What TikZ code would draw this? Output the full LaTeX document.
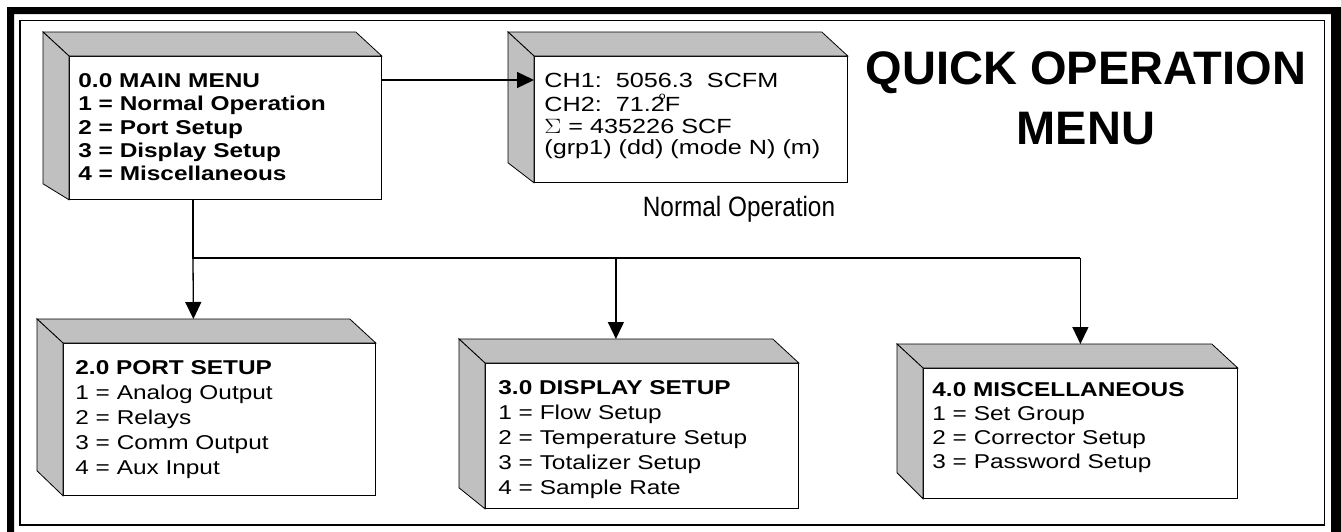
\documentclass[tikz,border=0pt]{standalone}
\usepackage{fontspec}
\setmainfont{Liberation Sans}
\usepackage{graphicx}
\usetikzlibrary{arrows.meta}
\definecolor{sidegray}{HTML}{C0C0C0}
\tikzset{
    menu face/.style n args={4}{
            draw, fill=white, line width=0.8pt, anchor=north west,
            inner ysep=0pt, inner xsep=#1,
            text height=#2, text depth=#3-#2, minimum width=#4
        },
    cube side/.style={draw, fill=sidegray, line width=0.8pt},
    link/.style={line width=1.3pt},
    link arrow/.style={link, -{Triangle[length=17pt,width=16pt]}},
}
% menu lines: width, line skip, lines
\newcommand\menulines[3]{\makebox[#1][l]{\fontsize{20}{#2}\selectfont\scalebox{1.22}[1]{\begin{tabular}[t]{@{}l@{}}#3\end{tabular}}}}
% grey top and left faces behind a front face
\newcommand\cubeback[2]{%
    \draw[cube side] (#1.north west) -- ++(-26,-24) -- ([shift={(-26,-24)}]#1.north east) -- (#1.north east) -- cycle;
    \draw[cube side] (#1.north west) -- ++(-26,-24) -- ([shift={(-26,-#2)}]#1.south west) -- (#1.south west) -- cycle;
    \coordinate (#1 top) at ([shift={(-26,-24)}]#1.north);
}

\begin{document}
\begin{tikzpicture}[x=1pt, y=-1pt]
        \useasboundingbox (0,0) rectangle (1341,531);
        %frame
        \fill[even odd rule] (7,7) rectangle (1350,545) (14,14) rectangle (1331,540);
        \draw[line width=1.5pt] (20,20.5) rectangle (1324.5,525);
        %title
        \node (title) [font=\bfseries\fontsize{47}{60}\selectfont, align=center, inner sep=0pt] at (1086,98.5) {QUICK OPERATION\\MENU};
        %boxes
        \node (main) [menu face={9pt}{31.2pt}{143pt}{312pt}] at (69,56)
            {\menulines{294pt}{23.3}{\bfseries 0.0 MAIN MENU\\\bfseries 1 = Normal Operation\\\bfseries 2 = Port Setup\\\bfseries 3 = Display Setup\\\bfseries 4 = Miscellaneous}};
        \cubeback{main}{16}
        \node (normal) [menu face={10pt}{31.3pt}{126pt}{313pt}] at (534,56)
            {\makebox[293pt][l]{\fontsize{20.5}{21.7}\selectfont\scalebox{1.23}[1]{\begin{tabular}[t]{@{}l@{}}CH1:\ \ 5056.3\ \ SCFM\\CH2:\ \ 71.2\rlap{\kern-5pt\raisebox{12pt}{\fontsize{10}{10}\selectfont o}}F\\$\Sigma$ = 435226 SCF\\(grp1) (dd) (mode N) (m)\end{tabular}}}};
        \cubeback{normal}{20}
        \node (normal label) [anchor=base, inner sep=0pt, font=\fontsize{28}{32}\selectfont] at (739,216.5) {\scalebox{0.87}[1]{Normal Operation}};
        \node (port) [menu face={12pt}{31.2pt}{152pt}{312pt}] at (63,343)
            {\menulines{288pt}{25}{\textbf{2.0 PORT SETUP}\\1 = Analog Output\\2 = Relays\\3 = Comm Output\\4 = Aux Input}};
        \cubeback{port}{25}
        \node (display) [menu face={13pt}{31.2pt}{145pt}{313pt}] at (485,363)
            {\menulines{287pt}{25}{\textbf{3.0 DISPLAY SETUP}\\1 = Flow Setup\\2 = Temperature Setup\\3 = Totalizer Setup\\4 = Sample Rate}};
        \cubeback{display}{21}
        \node (misc) [menu face={9pt}{28.2pt}{130pt}{314pt}] at (923,368)
            {\menulines{296pt}{24}{\textbf{4.0 MISCELLANEOUS}\\1 = Set Group\\2 = Corrector Setup\\3 = Password Setup}};
        \cubeback{misc}{26}
        %links
        \draw[link arrow] ([yshift=-24pt]main.north east) -- ([yshift=-24pt]normal.north west);
        \coordinate (fork) at (193,258);
        \draw[link] (main.south -| fork) -- (fork) -- (fork -| misc.north);
        \draw[link arrow] (fork) -- (port top);
        \draw[link arrow] (fork -| display top) -- (display top);
        \draw[link arrow] (fork -| misc.north) -- (misc.north |- misc top);
    \end{tikzpicture}
\end{document}
